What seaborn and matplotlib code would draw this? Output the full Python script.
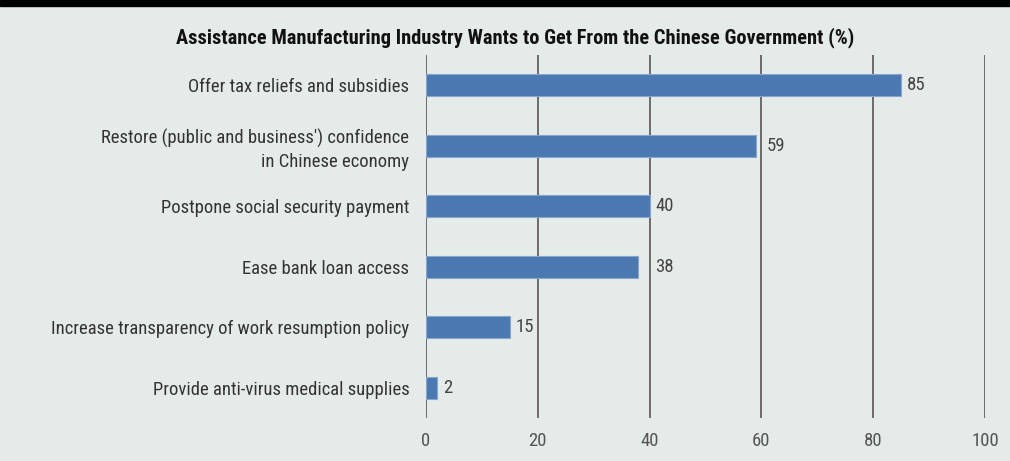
import matplotlib
matplotlib.use("Agg")
import matplotlib.pyplot as plt
import seaborn as sns
import pandas as pd
from matplotlib.patches import Rectangle

categories = [
    "Offer tax reliefs and subsidies",
    "Restore (public and business') confidence\nin Chinese economy",
    "Postpone social security payment",
    "Ease bank loan access",
    "Increase transparency of work resumption policy",
    "Provide anti-virus medical supplies",
]
values = [85, 59, 40, 38, 15, 2]
xticks = [0, 20, 40, 60, 80, 100]
title = "Assistance Manufacturing Industry Wants to Get From the Chinese Government (%)"

bg = "#e5ebe8"
bar_color = "#4a78b0"
sns.set_theme(style="white")
plt.rcParams['font.family'] = ['Roboto Condensed', 'Archivo Narrow', 'Barlow Semi Condensed', 'DejaVu Sans']

df = pd.DataFrame({"cat": categories, "val": values})

fig = plt.figure(figsize=(10.10, 4.61), dpi=100, facecolor=bg)
ax = fig.add_axes([0.4218, 0.0933, 0.5535, 0.7874])
ax.set_facecolor(bg)

sns.barplot(data=df, x="val", y="cat", orient="h", color=bar_color,
            width=0.36, edgecolor="#86a6d0", linewidth=0.8, ax=ax, saturation=1, zorder=3)

ax.set_xlim(0, 100)
ax.set_ylim(5.5, -0.5)
ax.set_xticks(xticks)
ax.set_xticklabels([str(t) for t in xticks], fontsize=13.5, color="#555555")
ax.tick_params(axis="x", length=0, pad=10)
ax.tick_params(axis="y", length=0, pad=12, labelsize=13.4, labelcolor="#333333")
for lbl in ax.get_yticklabels():
    lbl.set_horizontalalignment("right")
    lbl.set_linespacing(1.3)
ax.set_xlabel("")
ax.set_ylabel("")
for s in ax.spines.values():
    s.set_visible(False)
ax.grid(False)
for t in xticks:
    ax.axvline(t, color="#555555", linewidth=1.2, zorder=2)

for i, v in enumerate(values):
    start = v
    for t in xticks:
        if v <= t <= v + 3:
            start = t
    ax.text(start + 1.0, i, str(v), va="center", ha="left", fontsize=13.5, color="#444444")

fig.text(0.51, 0.918, title, ha="center", va="center", fontsize=14.7, fontweight="bold", color="#111111")
fig.patches.append(Rectangle((0, 0.988), 1, 0.012, transform=fig.transFigure, color="black", zorder=10))

fig.savefig("out.png", dpi=100, facecolor=bg)
